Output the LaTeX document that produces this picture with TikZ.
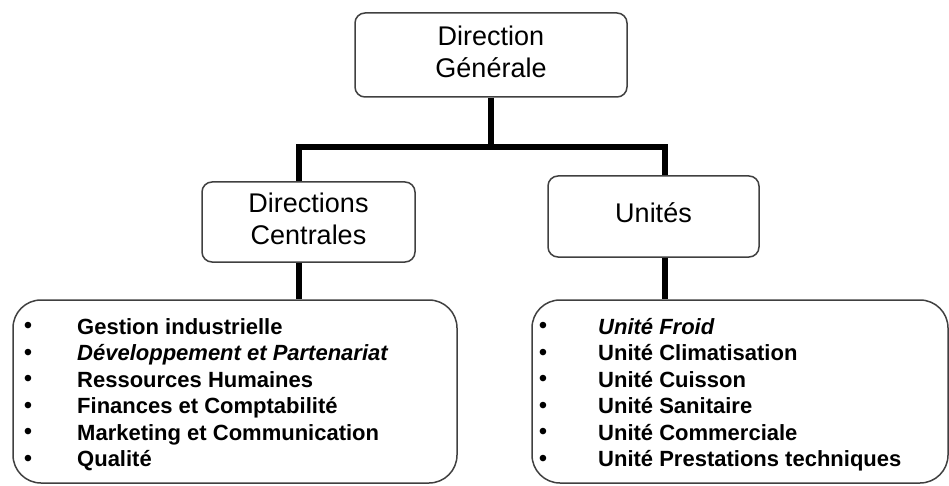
\documentclass[tikz,border=0pt]{standalone}
\usepackage{fontspec}
\setmainfont{Liberation Sans}
\usetikzlibrary{positioning}

\begin{document}
\begin{tikzpicture}[x=1pt, y=-1pt,
        boite/.style={draw=black!75, line width=1.5pt, rounded corners=10pt, inner sep=0pt,
            font=\fontsize{27}{32}\selectfont},
        liste/.style={draw=black!75, line width=1.5pt, rounded corners=28pt},
        trait/.style={line width=6pt},
        item/.style={anchor=base west, inner sep=0pt, font=\fontsize{22}{26}\selectfont\bfseries},
        puce/.style={inner sep=0pt, font=\fontsize{24}{26}\selectfont}]
    \useasboundingbox (0,0) rectangle (949,486);
    \node[boite, minimum width=272pt, minimum height=84pt] (dg) at (491,55)
        {\begin{tabular}[t]{c}Direction\\Générale\end{tabular}};
    \node[boite, minimum width=213pt, minimum height=80pt] (dc) at (308.5,222)
        {\begin{tabular}[t]{c}Directions\\Centrales\end{tabular}};
    \node[boite, minimum width=211pt, minimum height=81pt] (un) at (653.5,216.5)
        {\begin{tabular}[t]{c}Unités\\ \end{tabular}};
    \node[liste, minimum width=444pt, minimum height=183pt] (dcl) at (235,391.5) {};
    \node[liste, minimum width=416pt, minimum height=183pt] (unl) at (740,391.5) {};
    \coordinate (barL) at (299,147);
    \coordinate (barR) at (665,147);
    \draw[trait] (dg.south) -- (dg.south |- barL);
    \draw[trait] (barL |- dc.north) -- (barL) -- (barR) -- (barR |- un.north);
    \draw[trait] (barL |- dc.south) -- (barL |- dcl.north);
    \draw[trait] (barR |- un.south) -- (barR |- unl.north);
    \foreach \txt [count=\i] in {Gestion industrielle, {\itshape Développement et Partenariat},
            Ressources Humaines, Finances et Comptabilité, Marketing et Communication, Qualité} {
        \node[puce] (dcl-p\i) at (28,301.5+26.5*\i) {•};
        \node[item] (dcl-t\i) at (77,307.5+26.5*\i) {\txt};
    }
    \foreach \txt [count=\i] in {{\itshape Unité Froid}, Unité Climatisation, Unité Cuisson,
            Unité Sanitaire, Unité Commerciale, Unité Prestations techniques} {
        \node[puce] (unl-p\i) at (543,301.5+26.5*\i) {•};
        \node[item] (unl-t\i) at (598,307.5+26.5*\i) {\txt};
    }
\end{tikzpicture}
\end{document}
